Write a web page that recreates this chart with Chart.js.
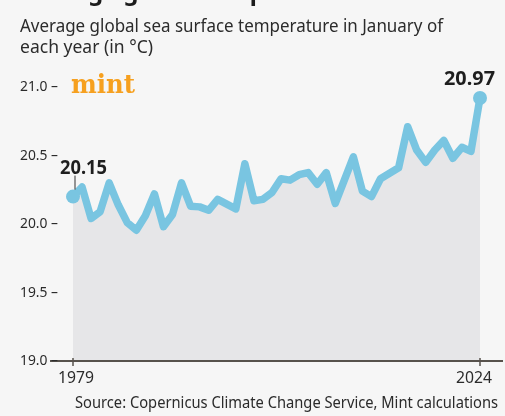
<!DOCTYPE html>
<html>
<head>
<meta charset="utf-8">
<script src="https://cdn.jsdelivr.net/npm/chart.js@4.4.0/dist/chart.umd.js"></script>
<style>
    html, body { margin: 0; padding: 0; background: #f6f6f6; }
    #wrap { width: 505px; height: 416px; }
</style>
</head>
<body>
<div id="wrap"><canvas id="chart" width="505" height="416"></canvas></div>
<script>
// January sea surface temperature
const years = ['1979', '1980', '1981', '1982', '1983', '1984', '1985', '1986', '1987', '1988',
    '1989', '1990', '1991', '1992', '1993', '1994', '1995', '1996', '1997', '1998',
    '1999', '2000', '2001', '2002', '2003', '2004', '2005', '2006', '2007', '2008',
    '2009', '2010', '2011', '2012', '2013', '2014', '2015', '2016', '2017', '2018',
    '2019', '2020', '2021', '2022', '2023', '2024'];
const sst = [20.20, 20.27, 20.04, 20.09, 20.30, 20.14, 20.01, 19.955, 20.06, 20.22,
    19.98, 20.07, 20.30, 20.13, 20.125, 20.10, 20.18, 20.145, 20.11, 20.44,
    20.17, 20.18, 20.23, 20.33, 20.32, 20.36, 20.375, 20.29, 20.375, 20.15,
    20.32, 20.49, 20.24, 20.20, 20.33, 20.37, 20.41, 20.71, 20.54, 20.45,
    20.54, 20.61, 20.48, 20.56, 20.53, 20.92];
const yTicks = [19.0, 19.5, 20.0, 20.5, 21.0];
const xTickLabels = ['1979', '2024'];
const calloutYears = ['1979', '2024'];
const calloutTexts = ['20.15', '20.97'];

const LINE = '#79c5e1';
const INK = '#2b2b2b';

// Texts, axis line and ticks drawn on top of the dataset
const decor = {
    id: 'decor',
    afterDatasetsDraw(chart) {
        const ctx = chart.ctx;
        const x = chart.scales.x;
        const y = chart.scales.y;
        ctx.save();

        // cut-off title at the very top
        ctx.fillStyle = '#1c1c1c';
        ctx.font = 'bold 24px "Noto Sans"';
        ctx.textAlign = 'left';
        ctx.textBaseline = 'alphabetic';
        ctx.fillText('Average global temperature', 20, -0.5, 333);

        // subtitle
        ctx.fillStyle = INK;
        ctx.font = '18px "Noto Sans"';
        ctx.fillText('Average global sea surface temperature in January of', 20, 31.5, 423);
        ctx.fillText('each year (in °C)', 20, 53, 133);

        // mint logo
        ctx.fillStyle = '#f6a01f';
        ctx.font = 'bold 26px "DejaVu Serif"';
        ctx.fillText('mint', 71, 93, 64);

        // bottom axis line
        const y0 = y.getPixelForValue(19);
        ctx.strokeStyle = '#57524c';
        ctx.lineWidth = 2;
        ctx.beginPath();
        ctx.moveTo(50, y0);
        ctx.lineTo(503, y0);
        ctx.stroke();

        // y tick labels with dashes
        ctx.fillStyle = INK;
        ctx.font = '14px "Noto Sans"';
        ctx.textAlign = 'right';
        ctx.textBaseline = 'middle';
        yTicks.forEach(v => {
            ctx.fillText(v.toFixed(1) + ' –', 58, y.getPixelForValue(v) + 0.5, 38);
        });

        // x ticks
        ctx.lineWidth = 1.5;
        ctx.textAlign = 'center';
        ctx.textBaseline = 'alphabetic';
        ctx.font = '16px "Noto Sans"';
        xTickLabels.forEach((lab, i) => {
            const px = x.getPixelForValue(years.indexOf(lab));
            ctx.beginPath();
            ctx.moveTo(px, y0 - 3);
            ctx.lineTo(px, y0 + 5);
            ctx.stroke();
            const shift = i === 0 ? 3 : -6;
            ctx.fillText(lab, px + shift, 383, 36);
        });

        // callouts
        ctx.fillStyle = '#1e1e1e';
        ctx.font = 'bold 20px "Noto Sans"';
        calloutYears.forEach((yr, i) => {
            const idx = years.indexOf(yr);
            const px = x.getPixelForValue(idx);
            const py = y.getPixelForValue(sst[idx]);
            if (i === 0) {
                ctx.textAlign = 'left';
                ctx.fillText(calloutTexts[i], px - 13, py - 23, 47);
                ctx.strokeStyle = '#333';
                ctx.lineWidth = 1;
                ctx.beginPath();
                ctx.moveTo(px + 2, py - 21);
                ctx.lineTo(px + 2, py - 7);
                ctx.stroke();
            } else {
                ctx.textAlign = 'right';
                ctx.fillText(calloutTexts[i], px + 15, py - 13, 51);
            }
        });

        // source line
        ctx.fillStyle = INK;
        ctx.font = '16px "Noto Sans"';
        ctx.textAlign = 'right';
        ctx.fillText('Source: Copernicus Climate Change Service, Mint calculations', 498, 408, 423);

        ctx.restore();
    }
};

new Chart(document.getElementById('chart'), {
    type: 'line',
    data: {
        labels: years,
        datasets: [{
            data: sst,
            borderColor: LINE,
            borderWidth: 7.5,
            borderJoinStyle: 'round',
            borderCapStyle: 'round',
            backgroundColor: '#e6e6e8',
            fill: 'start',
            tension: 0,
            pointRadius: c => (c.dataIndex === 0 || c.dataIndex === years.length - 1) ? 7 : 0,
            pointBackgroundColor: LINE,
            pointBorderWidth: 0,
            clip: false
        }]
    },
    options: {
        responsive: false,
        animation: false,
        layout: { padding: { left: 73, right: 25, top: 87, bottom: 55 } },
        plugins: {
            legend: { display: false },
            tooltip: { enabled: false }
        },
        scales: {
            x: { display: false },
            y: { display: false, min: 19, max: 21 }
        }
    },
    plugins: [decor]
});
</script>
</body>
</html>
